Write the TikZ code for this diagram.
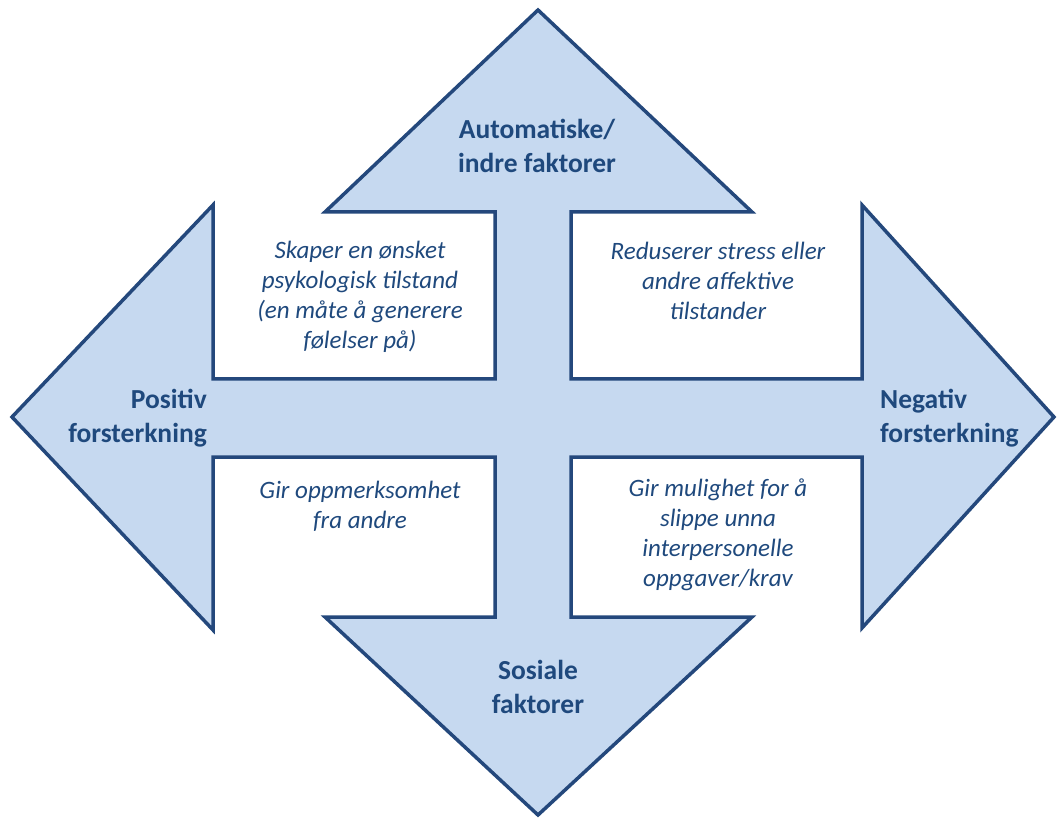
\documentclass[tikz,border=0pt]{standalone}
\usepackage{fontspec}
\setmainfont{Carlito}
\definecolor{crossline}{RGB}{36,72,124}
\definecolor{crossfill}{RGB}{198,217,240}
\definecolor{textblue}{RGB}{31,73,125}

\begin{document}
\begin{tikzpicture}[x=1pt, y=-1pt,
  cross/.style={draw=crossline, fill=crossfill, line width=3.5pt, line join=miter},
  head/.style={text=textblue, inner sep=0pt,
    font={\fontsize{27.5}{34}\selectfont\bfseries}},
  effect/.style={text=textblue, inner sep=0pt, align=center,
    font={\fontsize{25}{30}\selectfont\itshape}}
]
\useasboundingbox (0,0) rectangle (1058,818);

% four-way arrow
\draw[cross] (538,10) -- (752,212) -- (571,212) -- (571,379) -- (862,379)
  -- (862,205) -- (1054,417) -- (862,628) -- (862,457) -- (571,457)
  -- (571,617) -- (752,617) -- (538,815) -- (325,617) -- (495,617)
  -- (495,457) -- (213,457) -- (213,630) -- (12,417) -- (213,205)
  -- (213,379) -- (495,379) -- (495,212) -- (325,212) -- cycle;

% arrow labels
\node[head, align=center] (auto) at (537,146) {Automatiske/\\indre faktorer};
\node[head, align=center] (sosial) at (538,687) {Sosiale\\faktorer};
\node[head, align=right, anchor=east] (pos) at (207,418) {Positiv\\forsterkning};
\node[head, align=left, anchor=west] (neg) at (880,418) {Negativ\\forsterkning};

% quadrants
\node[effect] (tl) at (360,297) {Skaper en ønsket\\psykologisk tilstand\\(en måte å generere\\følelser på)};
\node[effect] (tr) at (718,281) {Reduserer stress eller\\andre affektive\\tilstander};
\node[effect] (bl) at (360,506) {Gir oppmerksomhet\\fra andre};
\node[effect] (br) at (718,535) {Gir mulighet for å\\slippe unna\\interpersonelle\\oppgaver/krav};
\end{tikzpicture}
\end{document}
